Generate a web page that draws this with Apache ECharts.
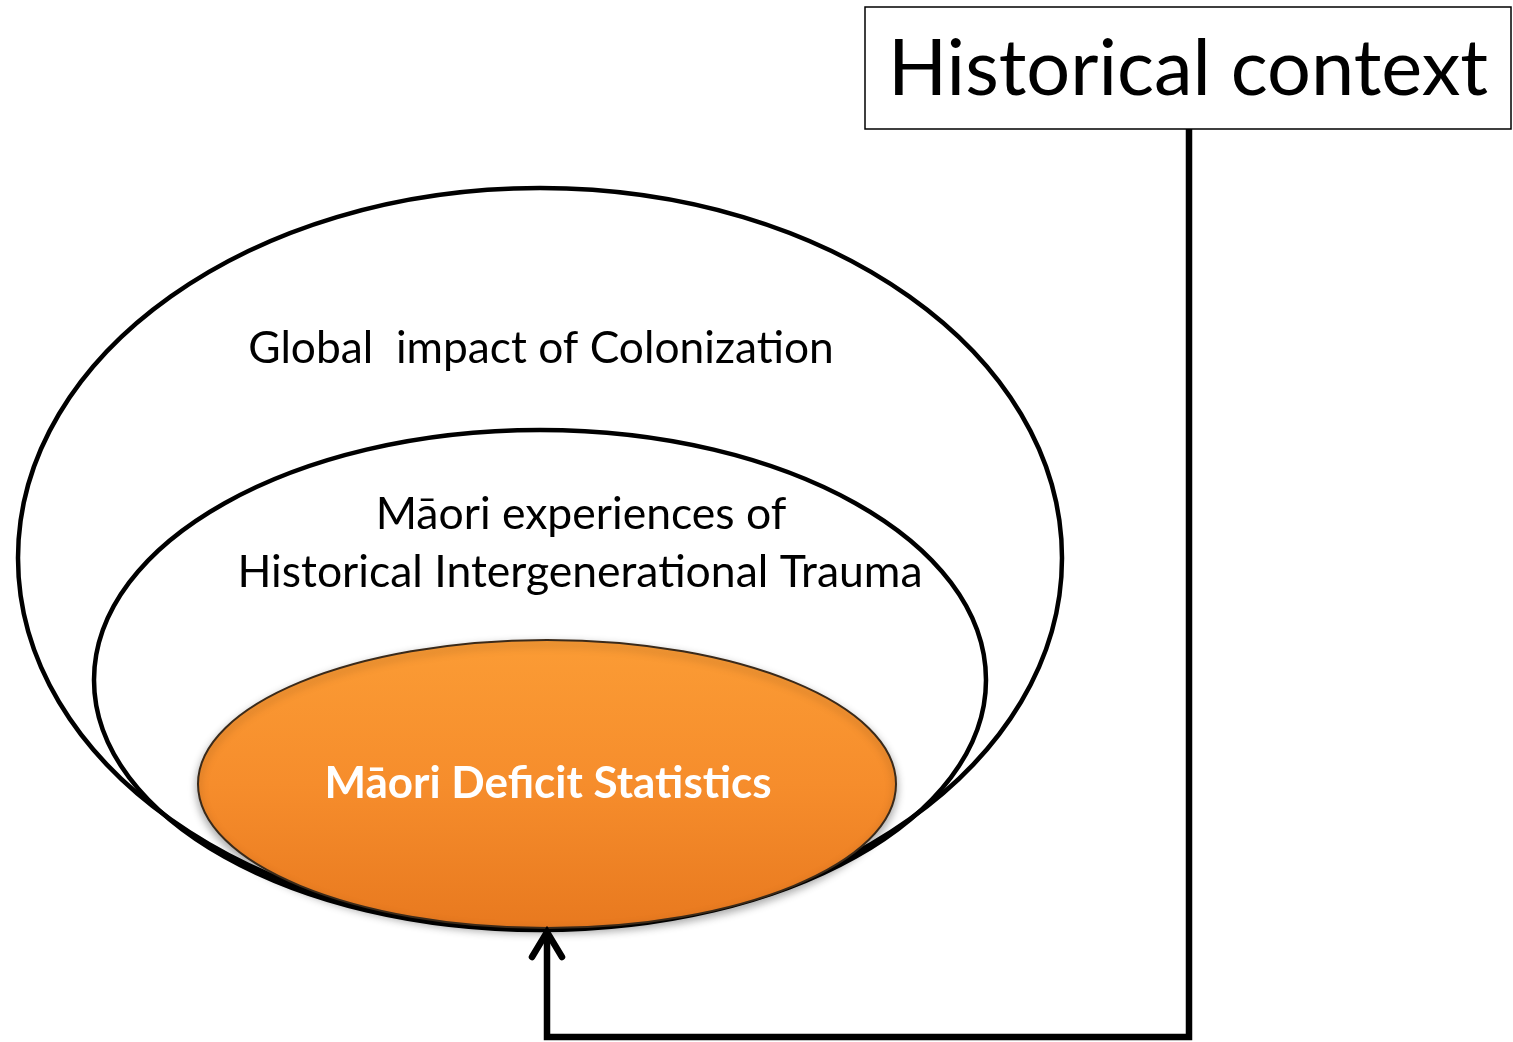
<!DOCTYPE html>
<html>
<head>
<meta charset="utf-8">
<style>
html,body{margin:0;padding:0;background:#fff;}
#chart{width:1513px;height:1042px;}
</style>
<script src="https://cdn.jsdelivr.net/npm/echarts@6/dist/echarts.min.js"></script>
</head>
<body>
<div id="chart"></div>
<script>
// Diagram texts
const boxLabel = ['Historical context'];
const ringLabels = ['Global  impact of Colonization', 'Māori experiences of', 'Historical Intergenerational Trauma'];
const coreLabel = ['Māori Deficit Statistics'];

const FONT = 'Lato, "Open Sans", "Noto Sans", sans-serif';
const chart = echarts.init(document.getElementById('chart'), null, {renderer: 'canvas'});

function txt(t, x, y, size, opts) {
  opts = opts || {};
  return {
    type: 'text', x: x, y: y, z: opts.z || 10,
    style: {
      text: t, fontSize: size, fontFamily: FONT,
      fontWeight: opts.weight || 'normal',
      fill: opts.fill || '#000',
      align: 'center', verticalAlign: 'middle',
      textAlign: 'center', textVerticalAlign: 'middle'
    }
  };
}

chart.setOption({
  backgroundColor: '#fff',
  graphic: [
    {type: 'ellipse', z: 1, shape: {cx: 540, cy: 558, rx: 522, ry: 370},
      style: {fill: 'none', stroke: '#000', lineWidth: 4.5}},
    {type: 'ellipse', z: 2, shape: {cx: 540, cy: 680, rx: 446, ry: 250},
      style: {fill: 'none', stroke: '#000', lineWidth: 4.5}},
    {type: 'ellipse', z: 3, shape: {cx: 547, cy: 784, rx: 349, ry: 144},
      style: {
        fill: new echarts.graphic.LinearGradient(0, 0, 0, 1, [
          {offset: 0, color: '#FB9C35'}, {offset: 0.5, color: '#F68D2C'}, {offset: 1, color: '#E8791F'}
        ]),
        stroke: '#3a2a1a', lineWidth: 2,
        shadowBlur: 8, shadowColor: 'rgba(0,0,0,0.35)', shadowOffsetY: 4
      }},
    {type: 'rect', z: 5, shape: {x: 865, y: 7, width: 646, height: 122},
      style: {fill: '#fff', stroke: '#000', lineWidth: 1.5}},
    {type: 'polyline', z: 6, shape: {points: [[1189, 129], [1189, 1037], [547, 1037], [547, 933]]},
      style: {fill: 'none', stroke: '#000', lineWidth: 6.5, lineJoin: 'miter'}},
    {type: 'polyline', z: 6, shape: {points: [[532, 957], [547, 932], [562, 957]]},
      style: {fill: 'none', stroke: '#000', lineWidth: 6.5, lineCap: 'round', lineJoin: 'miter'}},
    txt(boxLabel[0], 1188, 70, 77.5),
    txt(ringLabels[0], 541, 349, 44.3),
    txt(ringLabels[1], 581, 515, 44.5),
    txt(ringLabels[2], 580, 573, 44.5),
    txt(coreLabel[0], 548, 784, 44, {weight: 'bold', fill: '#fff'})
  ]
});
</script>
</body>
</html>
